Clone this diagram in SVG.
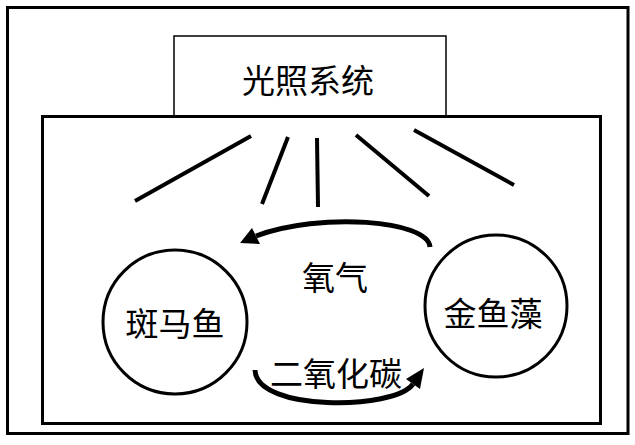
<svg xmlns="http://www.w3.org/2000/svg" width="635" height="445" viewBox="0 0 635 445">
<style>
.frame{fill:none;stroke:#000;stroke-width:3}
.thin{fill:#fff;stroke:#000;stroke-width:1.5}
.ray{stroke:#000;stroke-width:4;stroke-linecap:butt}
.circ{fill:#fff;stroke:#000;stroke-width:3}
.arc{fill:none;stroke:#000;stroke-width:5}
.lbl{font-family:"Liberation Serif","Noto Sans CJK SC",serif;font-size:33px;fill:#000;text-anchor:middle}
</style>
<rect width="635" height="445" fill="#fff"/>
<g id="outer"><rect class="frame" x="7.5" y="7.5" width="620.5" height="426"/></g>
<g id="light"><rect class="thin" x="174" y="36" width="272" height="80"/>
<text class="lbl" x="308" y="93">光照系统</text></g>
<g id="tank"><rect class="frame" x="42.5" y="116.5" width="558" height="307"/></g>
<g id="rays">
<line class="ray" x1="251" y1="136" x2="135" y2="201"/>
<line class="ray" x1="288" y1="137" x2="262" y2="204"/>
<line class="ray" x1="317" y1="138" x2="318" y2="207"/>
<line class="ray" x1="356" y1="135" x2="429" y2="196"/>
<line class="ray" x1="414" y1="130" x2="514" y2="185"/>
</g>
<g id="zebrafish"><circle class="circ" cx="175" cy="322" r="72"/>
<text class="lbl" x="175" y="336">斑马鱼</text></g>
<g id="hornwort"><circle class="circ" cx="496" cy="306" r="71"/>
<text class="lbl" x="493" y="326">金鱼藻</text></g>
<g id="connectors">
<path class="arc" d="M430,247 C428,220 320,212 256,236"/>
<polygon points="240,243 252,228 260,244"/>
<path class="arc" d="M255,370 C256,412 395,410 413,384"/>
<polygon points="424,368 406,379 420,389"/>
</g>
<g id="labels">
<text class="lbl" x="335" y="290">氧气</text>
<text class="lbl" x="336" y="386">二氧化碳</text>
</g>
</svg>
